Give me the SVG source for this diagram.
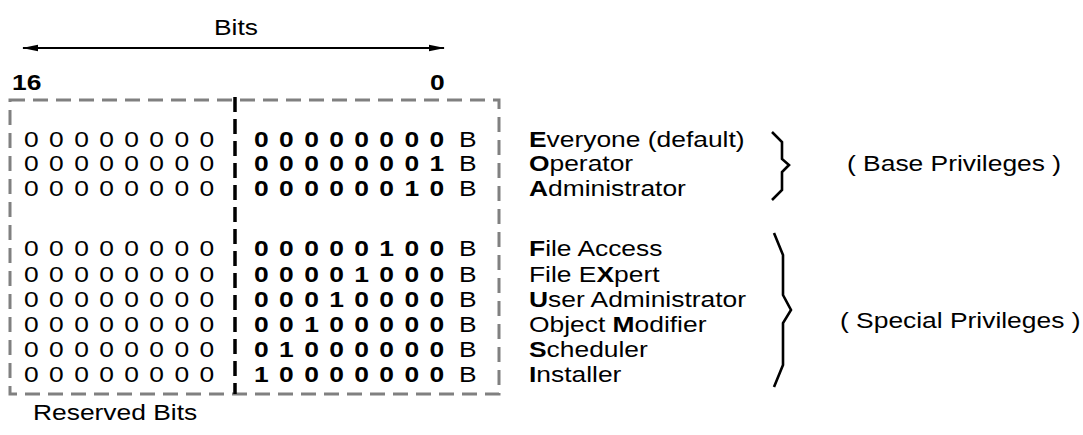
<svg xmlns="http://www.w3.org/2000/svg" width="1083" height="435" viewBox="0 0 1083 435">
  <style>
    text { font-family: "Liberation Sans", Arial, Helvetica, sans-serif; font-size: 22px; fill: #000; }
    .b { font-weight: bold; }
    .bits { letter-spacing: 1.28px; }
    .frame { fill: none; stroke: #808080; stroke-width: 3; stroke-dasharray: 15 8; }
    .split { fill: none; stroke: #000; stroke-width: 3.5; stroke-dasharray: 15 7; }
    .brace { fill: none; stroke: #000; stroke-width: 2.6; stroke-linejoin: miter; }
    .axis { fill: none; stroke: #000; stroke-width: 2.2; }
  </style>
  <defs>
    <marker id="head" viewBox="0 0 16 8" refX="15" refY="4" markerWidth="16" markerHeight="8" markerUnits="userSpaceOnUse" orient="auto-start-reverse">
      <path d="M0,0.8 L16,4 L0,7.2 z" fill="#000"/>
    </marker>
  </defs>
  <rect width="1083" height="435" fill="#fff"/>

  <!-- bit numbering header -->
  <g id="header">
    <text transform="matrix(1.2 0 0 1 214 35)">Bits</text>
    <text class="b" transform="matrix(1.2 0 0 1 12 90)">16</text>
    <text class="b" transform="matrix(1.2 0 0 1 430 90)">0</text>
  </g>

  <!-- register frame with the reserved / used halves -->
  <g id="register">
    <rect class="frame" x="10" y="100" width="489" height="294"/>
    <line class="split" x1="235" y1="97" x2="235" y2="394"/>
  </g>

  <g id="connectors">
    <line class="axis" x1="23" y1="48" x2="444" y2="48" marker-start="url(#head)" marker-end="url(#head)"/>
    <polyline class="brace" points="772,132 782,142 782,159 789,165 782,172 782,190 772,200"/>
    <polyline class="brace" points="774,233 783,255 783,295 791,310 783,323 783,365 774,387"/>
  </g>

  <!-- base privileges -->
  <g id="row-everyone">
    <text class="bits" transform="matrix(1.2 0 0 1 24 147)">0 0 0 0 0 0 0 0</text>
    <text class="bits b" transform="matrix(1.2 0 0 1 254 147)">0 0 0 0 0 0 0 0</text>
    <text transform="matrix(1.2 0 0 1 459 147)">B</text>
    <text transform="matrix(1.2 0 0 1 529 147)"><tspan class="b">E</tspan>veryone (default)</text>
  </g>
  <g id="row-operator">
    <text class="bits" transform="matrix(1.2 0 0 1 24 171)">0 0 0 0 0 0 0 0</text>
    <text class="bits b" transform="matrix(1.2 0 0 1 254 171)">0 0 0 0 0 0 0 1</text>
    <text transform="matrix(1.2 0 0 1 459 171)">B</text>
    <text transform="matrix(1.2 0 0 1 529 171)"><tspan class="b">O</tspan>perator</text>
  </g>
  <g id="row-administrator">
    <text class="bits" transform="matrix(1.2 0 0 1 24 196)">0 0 0 0 0 0 0 0</text>
    <text class="bits b" transform="matrix(1.2 0 0 1 254 196)">0 0 0 0 0 0 1 0</text>
    <text transform="matrix(1.2 0 0 1 459 196)">B</text>
    <text transform="matrix(1.2 0 0 1 529 196)"><tspan class="b">A</tspan>dministrator</text>
  </g>

  <!-- special privileges -->
  <g id="row-file-access">
    <text class="bits" transform="matrix(1.2 0 0 1 24 256)">0 0 0 0 0 0 0 0</text>
    <text class="bits b" transform="matrix(1.2 0 0 1 254 256)">0 0 0 0 0 1 0 0</text>
    <text transform="matrix(1.2 0 0 1 459 256)">B</text>
    <text transform="matrix(1.2 0 0 1 529 256)"><tspan class="b">F</tspan>ile Access</text>
  </g>
  <g id="row-file-expert">
    <text class="bits" transform="matrix(1.2 0 0 1 24 282)">0 0 0 0 0 0 0 0</text>
    <text class="bits b" transform="matrix(1.2 0 0 1 254 282)">0 0 0 0 1 0 0 0</text>
    <text transform="matrix(1.2 0 0 1 459 282)">B</text>
    <text transform="matrix(1.2 0 0 1 529 282)">File E<tspan class="b">X</tspan>pert</text>
  </g>
  <g id="row-user-administrator">
    <text class="bits" transform="matrix(1.2 0 0 1 24 307)">0 0 0 0 0 0 0 0</text>
    <text class="bits b" transform="matrix(1.2 0 0 1 254 307)">0 0 0 1 0 0 0 0</text>
    <text transform="matrix(1.2 0 0 1 459 307)">B</text>
    <text transform="matrix(1.2 0 0 1 529 307)"><tspan class="b">U</tspan>ser Administrator</text>
  </g>
  <g id="row-object-modifier">
    <text class="bits" transform="matrix(1.2 0 0 1 24 332)">0 0 0 0 0 0 0 0</text>
    <text class="bits b" transform="matrix(1.2 0 0 1 254 332)">0 0 1 0 0 0 0 0</text>
    <text transform="matrix(1.2 0 0 1 459 332)">B</text>
    <text transform="matrix(1.2 0 0 1 529 332)">Object <tspan class="b">M</tspan>odifier</text>
  </g>
  <g id="row-scheduler">
    <text class="bits" transform="matrix(1.2 0 0 1 24 357)">0 0 0 0 0 0 0 0</text>
    <text class="bits b" transform="matrix(1.2 0 0 1 254 357)">0 1 0 0 0 0 0 0</text>
    <text transform="matrix(1.2 0 0 1 459 357)">B</text>
    <text transform="matrix(1.2 0 0 1 529 357)"><tspan class="b">S</tspan>cheduler</text>
  </g>
  <g id="row-installer">
    <text class="bits" transform="matrix(1.2 0 0 1 24 382)">0 0 0 0 0 0 0 0</text>
    <text class="bits b" transform="matrix(1.2 0 0 1 254 382)">1 0 0 0 0 0 0 0</text>
    <text transform="matrix(1.2 0 0 1 459 382)">B</text>
    <text transform="matrix(1.2 0 0 1 529 382)"><tspan class="b">I</tspan>nstaller</text>
  </g>

  <!-- group captions -->
  <g id="caption-base">
    <text transform="matrix(1.2 0 0 1 847 171)">( Base Privileges )</text>
  </g>
  <g id="caption-special">
    <text transform="matrix(1.2 0 0 1 840 328)">( Special Privileges )</text>
  </g>
  <g id="caption-reserved">
    <text transform="matrix(1.2 0 0 1 33 420)">Reserved Bits</text>
  </g>
</svg>
